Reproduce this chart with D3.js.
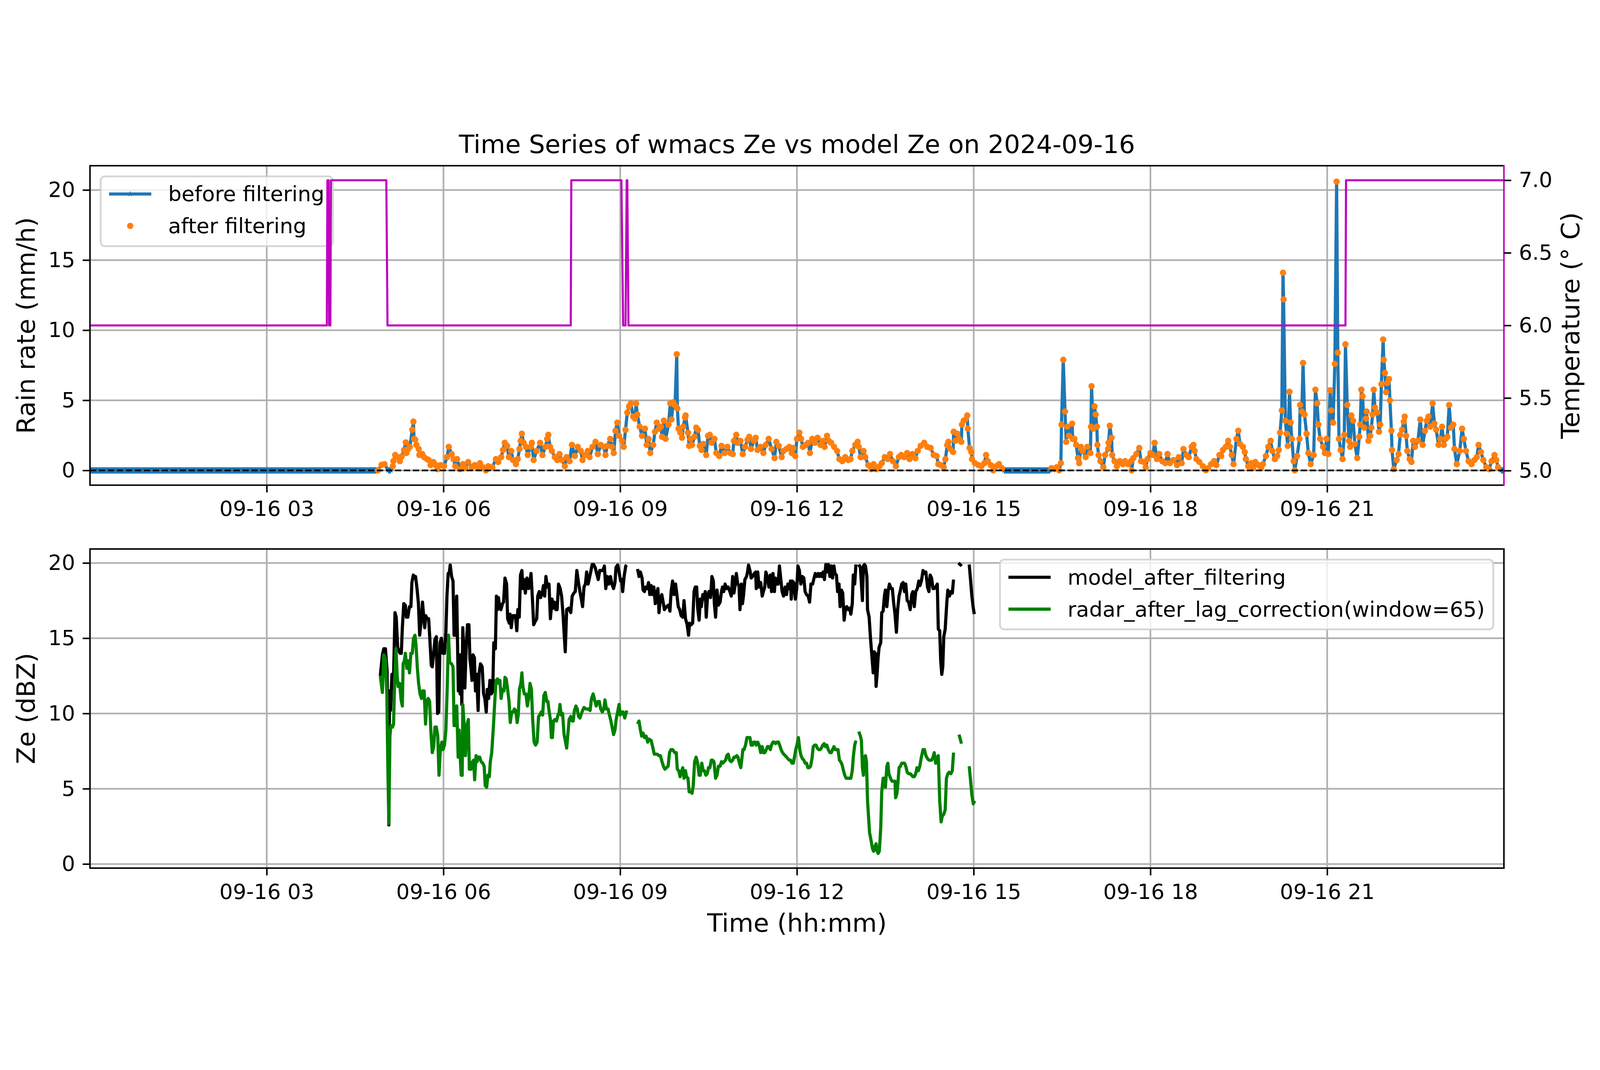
<!DOCTYPE html>
<html>
<head>
<meta charset="utf-8">
<script src="https://cdn.jsdelivr.net/npm/d3@7"></script>
<style>
  html, body { margin: 0; padding: 0; width: 100%; height: 100%; overflow: hidden; background: #fff; }
  svg { display: block; width: 100vw; height: 100vh; }
  text { font-family: "DejaVu Sans", sans-serif; }
</style>
</head>
<body>
<svg id="chart"></svg>
<script>
// ---- data (hours after 2024-09-16 00:00 UTC) ----
const DAY0 = Date.UTC(2024, 8, 16);
const hourTicks = [3, 6, 9, 12, 15, 18, 21];
const rainTicks = [0, 5, 10, 15, 20];
const tempTicks = [5.0, 5.5, 6.0, 6.5, 7.0];
const zeTicks = [0, 5, 10, 15, 20];

const chartTitle = 'Time Series of wmacs Ze vs model Ze on 2024-09-16';

// rain rate before filtering [hour, mm/h]; 0 = no rain (dropped by the filter)
const rainRate = [
  [0,0],[4.87,0],
  [4.89,0.01],[4.95,0.4],[5.00,0.45],[5.06,0],[5.11,0],[5.14,0.3],[5.15,0.66],[5.18,1.1],[5.22,0.95],[5.26,0.66],
  [5.29,1.0],[5.33,1.46],[5.36,2.0],[5.37,1.24],[5.40,1.53],[5.43,1.68],[5.47,2.9],[5.49,3.48],[5.50,2.25],[5.52,2.2],
  [5.54,1.82],[5.58,1.53],[5.59,1.1],[5.64,1.17],[5.67,0.95],[5.72,0.81],[5.75,0.74],[5.78,0.38],[5.83,0.6],[5.87,0.38],
  [5.90,0.09],[5.95,0.38],[6.01,0.3],[6.06,0.95],[6.09,1.68],[6.14,1.17],[6.17,0.81],[6.20,0.3],[6.23,0.81],[6.28,0.09],
  [6.33,0.45],[6.37,0.16],[6.42,0.6],[6.48,0.23],[6.53,0.38],[6.58,0.23],[6.62,0.52],[6.67,0.23],[6.72,0.01],[6.76,0.3],
  [6.83,0.23],[6.89,0.81],[6.93,0.6],[6.98,0.95],[7.01,1.46],[7.04,1.97],[7.08,1.75],[7.11,0.95],[7.15,1.39],[7.18,0.74],
  [7.23,0.45],[7.26,0.81],[7.29,1.53],[7.31,2.11],[7.33,2.62],[7.36,1.97],[7.40,1.68],[7.43,1.1],[7.48,1.68],[7.50,1.97],
  [7.53,0.74],[7.58,1.39],[7.64,1.97],[7.68,1.1],[7.73,1.68],[7.76,2.25],[7.78,2.54],[7.81,1.68],[7.84,1.39],[7.89,0.95],
  [7.93,0.74],[7.97,1.17],[8.01,0.74],[8.06,0.3],[8.09,0.95],[8.14,0.66],[8.18,1.82],[8.23,1.03],[8.28,1.68],[8.33,1.39],
  [8.36,0.74],[8.40,1.1],[8.45,1.39],[8.48,0.95],[8.53,1.68],[8.58,2.04],[8.62,1.17],[8.67,1.82],[8.72,1.68],[8.75,1.1],
  [8.78,1.75],[8.83,2.25],[8.86,1.68],[8.89,1.24],[8.92,2.83],[8.95,3.41],[8.98,2.47],[9.03,2.11],[9.06,1.68],[9.09,2.9],
  [9.12,4.13],[9.15,4.57],[9.18,4.78],[9.22,3.84],[9.25,3.7],[9.27,4.78],[9.29,3.99],[9.33,3.12],[9.37,2.47],[9.42,2.98],
  [9.45,1.82],[9.48,2.25],[9.51,1.24],[9.56,1.82],[9.59,2.76],[9.62,3.41],[9.66,2.98],
  [9.69,3.12],[9.71,2.4],[9.74,3.55],[9.77,2.25],[9.82,3.27],[9.85,4.78],[9.87,3.63],[9.90,4.86],[9.93,4.64],[9.96,8.29],
  [9.97,4.42],[9.99,2.98],[10.02,2.69],[10.05,2.33],[10.07,3.12],[10.10,3.77],[10.11,3.92],[10.15,2.69],[10.17,1.75],[10.19,2.25],
  [10.22,1.82],[10.26,2.4],[10.29,3.05],[10.32,2.9],[10.35,1.75],[10.38,1.46],[10.41,1.89],[10.46,1.1],[10.49,2.47],[10.52,2.54],
  [10.55,1.97],[10.60,2.25],[10.63,1.24],[10.68,1.03],[10.72,1.75],[10.77,1.24],[10.82,1.68],[10.87,1.24],[10.91,1.17],[10.93,2.11],
  [10.97,2.54],[10.99,1.97],[11.04,2.11],[11.08,1.17],[11.12,1.68],[11.16,2.18],[11.19,2.4],[11.22,1.53],[11.27,2.11],[11.30,2.33],
  [11.33,1.46],[11.38,1.68],[11.43,1.24],[11.47,1.82],[11.52,2.25],[11.57,1.53],[11.62,0.88],[11.65,2.04],[11.69,1.75],[11.74,0.95],
  [11.77,1.39],[11.82,1.53],[11.87,1.68],[11.91,1.24],[11.94,1.6],[11.97,1.03],[12.00,2.25],[12.04,2.69],[12.07,2.25],[12.10,1.68],
  [12.15,1.82],[12.19,1.97],[12.22,1.24],[12.26,2.25],[12.30,1.97],[12.35,2.33],[12.40,1.82],[12.44,2.11],[12.47,1.68],[12.51,2.47],
  [12.54,2.11],[12.58,1.97],[12.63,1.68],[12.68,1.39],[12.72,0.81],[12.77,0.66],[12.82,0.95],[12.87,0.74],[12.91,0.81],[12.94,1.39],
  [12.99,1.82],[13.03,2.04],[13.05,1.68],[13.08,0.95],[13.13,1.39],[13.16,0.95],[13.21,0.38],[13.26,0.09],[13.30,0.45],[13.35,0.09],
  [13.40,0.3],[13.44,0.52],[13.49,0.95],[13.54,0.81],[13.58,1.17],[13.63,0.66],[13.68,0.3],[13.73,0.95],[13.77,1.1],[13.82,0.95],
  [13.87,1.24],[13.91,0.81],[13.96,1.17],[14.01,0.88],[14.05,1.39],[14.10,1.75],[14.16,1.97],[14.21,1.68],[14.27,1.6],[14.32,1.1],
  [14.37,1.03],[14.40,0.45],[14.44,0.38],[14.49,0.23],[14.52,0.8],[14.55,1.8],
  [14.57,2.04],[14.60,1.53],[14.65,1.31],[14.66,2.76],[14.69,2.11],[14.72,2.62],[14.75,2.25],[14.79,2.04],[14.80,3.27],[14.83,3.55],
  [14.86,3.63],[14.89,3.92],[14.90,2.98],[14.93,1.6],[14.96,1.31],[14.97,0.81],[15.02,0.52],[15.08,0.38],[15.13,0.3],[15.18,0.52],
  [15.21,1.1],[15.24,0.66],[15.29,0.38],[15.33,0.01],[15.38,0.3],[15.43,0.45],[15.48,0.16],[15.51,0],[16.30,0],
  [16.32,0.16],[16.37,0.09],[16.41,0.23],[16.45,0.01],[16.48,0.52],[16.49,3.27],[16.52,7.89],[16.55,4.2],[16.57,2.04],[16.59,3.12],
  [16.62,2.47],[16.67,3.34],[16.68,2.25],[16.71,2.25],[16.74,1.82],[16.77,0.88],[16.79,0.52],[16.82,1.68],[16.85,1.39],[16.90,0.95],
  [16.93,1.68],[16.98,1.24],[16.99,3.12],[17.00,6.01],[17.03,2.98],[17.05,4.57],[17.07,3.99],[17.09,3.12],[17.10,1.82],[17.12,1.1],
  [17.15,0.66],[17.20,0.23],[17.23,1.1],[17.28,1.53],[17.29,1.97],[17.31,3.19],[17.34,2.33],[17.35,1.1],[17.39,0.66],[17.43,0.3],
  [17.48,0.66],[17.53,0.45],[17.57,0.66],[17.62,0.45],[17.67,0.66],[17.68,0.01],[17.71,0.88],[17.76,1.17],[17.81,1.6],[17.84,0.66],
  [17.89,0.6],[17.92,0.23],[17.95,0.81],[18.00,1.24],[18.04,1.1],[18.07,1.97],[18.11,0.81],[18.15,1.17],[18.20,0.66],[18.25,0.52],
  [18.29,1.17],[18.33,0.52],[18.39,0.74],[18.45,0.38],[18.48,0.95],[18.53,0.52],[18.56,1.53],[18.61,1.1],[18.65,0.95],[18.70,1.68],
  [18.73,1.82],[18.75,1.39],[18.78,0.81],[18.83,0.6],[18.89,0.3],[18.94,0.02],[18.98,0.16],[19.03,0.45],[19.08,0.66],[19.12,0.38],
  [19.17,1.1],[19.20,1.03],[19.23,1.46],[19.28,1.68],
  [19.32,2.11],[19.35,1.68],[19.38,1.1],[19.41,0.45],[19.46,2.25],[19.49,2.83],[19.52,1.89],[19.57,1.68],[19.60,1.31],[19.62,0.81],
  [19.66,0.3],[19.71,0.52],[19.74,0.16],[19.78,0.6],[19.83,0.38],[19.88,0.23],[19.91,0.45],[19.96,1.03],[20.00,1.68],[20.04,2.11],
  [20.07,1.39],[20.11,0.81],[20.15,1.03],[20.18,1.46],[20.20,2.69],[20.23,4.28],[20.25,14.1],[20.26,12.2],[20.29,3.55],[20.31,2.62],
  [20.33,1.75],[20.36,5.61],[20.38,3.41],[20.40,2.25],[20.43,0.66],[20.45,0.01],[20.49,1.03],[20.53,2.25],[20.54,4.67],[20.57,4.2],
  [20.59,7.67],[20.615,3.99],[20.65,2.62],[20.68,1.24],[20.72,0.45],[20.77,1.1],[20.80,5.76],[20.83,4.78],[20.85,3.27],[20.88,2.25],
  [20.93,1.68],[20.96,1.24],[20.99,2.25],[21.02,1.17],[21.05,5.72],[21.07,4.28],[21.10,3.41],[21.13,7.6],[21.16,20.6],[21.18,8.4],
  [21.20,2.25],[21.23,1.46],[21.26,0.81],[21.29,2.54],[21.31,9.0],[21.34,4.67],[21.37,2.11],[21.39,1.68],[21.41,3.92],[21.44,3.55],
  [21.47,1.89],[21.51,0.88],[21.545,2.4],[21.56,3.27],[21.58,5.76],[21.60,5.29],[21.63,3.05],[21.66,3.7],[21.67,4.2],[21.70,2.11],
  [21.73,2.47],[21.75,3.05],[21.77,3.99],[21.79,5.76],[21.81,4.49],[21.85,4.13],[21.88,2.76],[21.90,3.27],[21.92,6.16],[21.95,9.34],
  [21.96,7.89],[21.98,6.95],[22.00,5.58],[22.02,6.23],[22.05,6.52],[22.065,5.0],[22.09,2.83],[22.10,1.46],[22.13,0.09],[22.18,0.74],
  [22.21,1.17],[22.24,2.54],[22.27,2.9],[22.30,3.48],[22.315,3.84],[22.34,2.47],[22.36,1.39],[22.40,0.81],[22.43,0.6],[22.46,2.11],
  [22.49,1.68],[22.54,2.11],[22.58,3.63],[22.62,1.82],[22.66,2.83],[22.69,3.55],[22.72,3.84],[22.75,3.12],[22.79,4.78],[22.82,3.34],
  [22.85,2.9],[22.89,1.82],[22.92,2.25],[22.95,3.12],[22.98,1.82],[23.01,2.25],[23.04,2.4],[23.07,4.67],[23.10,3.05],[23.14,3.27],
  [23.16,1.53],[23.20,0.45],[23.25,1.39],[23.29,2.98],[23.32,2.25],[23.355,1.39],[23.40,0.66],[23.45,0.45],[23.50,0.74],[23.54,0.95],
  [23.57,1.82],[23.61,1.31],[23.65,0.74],[23.70,0.23],[23.75,0.09],[23.79,0.66],[23.84,1.1],[23.87,0.74],[23.90,0.23],[23.95,0],[23.99,0]
];

// temperature [hour, deg C]
const temperature = [
  [0,6],[4.02,6],[4.03,7],[4.05,7],[4.06,6],[4.08,6],[4.09,7],[5.03,7],[5.05,6],[8.16,6],[8.17,7],
  [9.02,7],[9.05,6],[9.09,6],[9.11,7],[9.12,7],[9.14,6],[21.31,6],[21.32,7],[24,7]
];

// model Ze after filtering [hour, dBZ]; null = gap
const modelZe = [
  [4.928,12.5],[4.963,13.9],[4.987,14.3],[5.015,14.3],[5.042,12.9],[5.060,8.5],[5.073,2.6],[5.084,11.5],[5.101,10.2],[5.125,12.6],
  [5.153,12.5],[5.177,16.7],[5.198,16.4],[5.222,14.4],[5.239,14.2],[5.264,14.0],[5.284,14.0],[5.302,15.7],[5.326,17.3],[5.353,17.2],
  [5.371,16.4],[5.395,16.4],[5.423,17.1],[5.447,17.1],[5.464,18.7],[5.488,19.2],[5.506,19.0],[5.526,19.1],[5.551,18.3],[5.575,17.3],
  [5.596,15.2],[5.620,16.1],[5.644,17.4],[5.665,16.4],[5.682,15.7],[5.699,16.5],[5.723,16.3],[5.748,16.3],[5.768,15.0],[5.793,13.2],
  [5.810,13.1],[5.834,14.0],[5.855,14.9],[5.879,15.1],[5.900,10.0],[5.920,10.1],[5.941,14.7],[5.965,15.0],[5.990,14.0],[6.017,14.0],
  [6.041,15.4],[6.059,17.8],[6.080,19.3],[6.097,19.3],[6.114,19.86],[6.138,19.1],[6.162,18.8],[6.180,15.2],[6.200,15.2],[6.225,17.8],
  [6.242,13.9],[6.252,11.5],[6.270,13.9],[6.283,11.3],[6.294,13.9],[6.311,10.6],[6.328,15.7],[6.346,13.9],[6.363,11.7],[6.387,14.6],
  [6.408,15.9],[6.432,15.9],[6.449,13.6],[6.467,13.0],[6.484,12.2],[6.501,13.9],[6.525,13.7],[6.543,11.5],[6.563,12.6],[6.588,10.2],
  [6.605,12.7],[6.629,13.3],[6.657,13.1],[6.681,11.3],[6.702,11.0],[6.726,10.1],[6.743,11.6],[6.767,11.0],[6.788,12.2],[6.812,11.3],
  [6.836,11.5],[6.854,14.7],[6.881,14.3],[6.899,17.8],[6.916,16.9],[6.933,17.7],[6.957,17.0],[6.975,16.9],[7.002,17.3],[7.020,17.4],
  [7.044,19.0],[7.072,18.6],[7.089,16.3],[7.117,16.0],[7.130,16.6],[7.151,15.7],[7.175,16.5],[7.220,16.5],[7.245,15.5],[7.262,16.9],
  [7.286,16.4],[7.307,19.2],[7.331,19.5],[7.348,18.3],[7.365,18.9],[7.390,18.0],[7.417,19.0],[7.445,18.3],[7.469,18.8],[7.486,19.3],
  [7.510,17.6],[7.531,15.9],[7.555,16.1],[7.583,16.3],[7.600,17.8],[7.625,18.1],[7.649,17.7],[7.676,18.0],[7.697,18.5],[7.718,17.8],
  [7.739,19.1],[7.763,18.4],[7.791,18.6],[7.815,16.3],[7.843,17.6],[7.867,17.0],[7.884,17.4],[7.908,16.9],[7.929,16.9],[7.953,18.6],
  [7.981,18.3],[8.005,17.8],[8.029,16.6],[8.050,15.2],[8.067,14.1],[8.091,16.9],[8.126,17.0],[8.161,16.7],[8.185,17.8],[8.213,18.0],
  [8.237,18.1],[8.264,19.5],[8.292,18.7],[8.316,18.1],[8.340,17.6],[8.361,17.1],[8.385,18.4],[8.409,18.6],[8.430,19.4],[8.455,18.6],
  [8.472,18.9],[8.499,19.4],[8.524,19.9],[8.548,19.9],[8.575,19.7],[8.600,19.3],[8.627,18.9],[8.652,19.5],[8.679,19.5],[8.707,19.5],
  [8.731,19.8],[8.755,18.3],[8.783,19.1],[8.807,18.6],[8.835,19.1],[8.859,18.6],[8.887,18.3],[8.911,18.7],[8.928,19.7],[8.956,19.87],
  [8.980,19.4],[9.007,18.8],[9.025,18.9],[9.042,18.1],[9.066,19.1],[9.094,19.8],[9.111,19.86],[9.2,null],
  [9.294,19.6],[9.319,19.1],[9.343,19.4],[9.371,19.0],[9.388,18.2],[9.412,18.1],[9.433,18.4],[9.457,18.3],[9.481,18.7],[9.502,17.9],
  [9.526,18.5],[9.543,17.9],[9.571,18.4],[9.595,17.3],[9.620,18.0],[9.640,18.3],[9.658,16.7],[9.682,17.6],[9.706,17.9],[9.733,17.3],
  [9.750,16.9],[9.785,17.1],[9.819,17.2],[9.844,16.8],[9.864,18.1],[9.889,18.8],[9.913,17.9],[9.940,18.6],[9.965,17.8],[9.985,17.1],
  [10.010,16.9],[10.034,16.5],[10.062,16.4],[10.083,17.5],
  [10.108,16.3],[10.136,15.9],[10.160,15.2],[10.177,16.0],[10.205,15.9],[10.229,16.0],[10.253,18.1],[10.274,18.4],[10.298,18.4],[10.315,17.0],
  [10.339,16.2],[10.360,17.6],[10.377,17.1],[10.402,17.9],[10.426,17.6],[10.443,18.1],[10.460,16.4],[10.481,17.7],[10.505,18.1],[10.533,17.7],
  [10.557,19.1],[10.581,18.8],[10.598,17.3],[10.619,16.4],[10.643,18.2],[10.667,17.2],[10.695,17.4],[10.719,18.1],[10.736,18.4],[10.757,18.1],
  [10.781,18.6],[10.805,18.3],[10.833,18.4],[10.861,18.1],[10.885,17.8],[10.909,19.1],[10.930,18.0],[10.954,18.6],[10.971,19.3],[10.995,18.6],
  [11.016,18.5],[11.033,16.9],[11.057,18.6],[11.075,17.3],[11.092,17.8],[11.116,18.9],[11.144,19.1],[11.161,19.4],[11.178,19.86],[11.202,19.5],
  [11.223,19.0],[11.247,19.1],[11.275,19.3],[11.299,19.4],[11.309,18.3],[11.334,19.4],[11.358,18.4],[11.385,18.7],[11.410,17.8],[11.430,18.1],
  [11.454,18.4],[11.472,19.4],[11.496,19.1],[11.524,18.4],[11.548,19.2],[11.568,18.1],[11.593,19.3],[11.617,18.1],[11.634,19.0],[11.655,18.6],
  [11.679,18.6],[11.703,19.8],[11.724,19.0],[11.748,18.1],[11.772,17.8],[11.800,18.4],[11.824,17.9],[11.845,18.6],[11.869,18.3],[11.889,18.8],
  [11.903,17.6],[11.920,18.8],[11.945,18.7],[11.972,17.6],[11.996,18.3],[12.017,19.8],[12.041,19.5],[12.065,18.6],[12.093,19.1],[12.117,19.0],
  [12.138,18.1],[12.162,17.9],[12.190,17.8],[12.214,17.4],[12.238,18.6],[12.266,18.6],[12.290,19.0],[12.311,19.3],[12.335,19.1],[12.359,19.3],
  [12.380,19.1],[12.404,19.3],[12.421,19.1],[12.445,19.4],[12.466,18.9],[12.490,19.9],[12.514,19.4],[12.535,19.9],[12.559,19.1],[12.583,19.8],
  [12.604,19.0],[12.628,19.8],[12.645,19.3],[12.670,19.2],[12.690,18.1],[12.714,18.6],[12.732,17.1],[12.756,18.2],[12.777,18.0],[12.801,16.2],
  [12.825,17.0],[12.846,17.1],[12.870,16.9],[12.894,17.0],[12.915,16.6],[12.939,17.3],[12.956,19.2],[12.980,18.6],[13.001,19.9],[13.02,null],
  [13.049,19.9],[13.077,19.7],[13.094,18.6],[13.111,17.5],[13.128,19.8],[13.146,19.9],[13.163,19.8],[13.187,19.1],[13.198,16.9],[13.225,16.4],
  [13.250,14.9],[13.274,13.7],[13.294,12.7],[13.312,14.1],[13.329,14.0],[13.343,11.8],[13.360,12.6],[13.377,13.7],[13.394,14.4],[13.422,14.7],
  [13.439,16.7],[13.463,16.8],[13.484,17.8],[13.501,18.2],[13.526,17.1],[13.550,18.2],[13.570,18.6],[13.595,18.3],[13.619,18.3],[13.640,17.4],
  [13.664,16.6],[13.688,15.4],[13.709,16.9],[13.733,17.8],[13.757,18.2],[13.778,18.6],[13.802,18.7],[13.826,18.1],[13.847,18.6],[13.871,17.5],
  [13.895,17.4],[13.923,16.9],[13.947,17.9],[13.968,18.1],[13.992,17.1],[14.016,18.1],[14.043,18.3],[14.068,18.8],[14.088,18.5],[14.112,18.8],
  [14.140,19.5],[14.164,19.3],[14.188,19.4],[14.216,18.4],[14.240,18.1],[14.261,19.2],[14.285,19.0],[14.309,18.3],[14.330,18.3],[14.354,18.4],
  [14.382,18.6],[14.399,15.6],[14.423,15.5],[14.440,13.5],[14.458,12.6],[14.475,13.1],[14.492,15.1],[14.516,15.6],[14.544,17.4],[14.561,18.2],
  [14.589,17.8],[14.613,18.1],[14.637,18.0],[14.658,18.9],[14.70,null],[14.741,20.0],[14.796,19.8],[14.85,null],
  [14.924,19.9],[14.948,18.8],[14.969,17.8],[14.993,17.0],[15.010,16.6]
];

// radar Ze after lag correction (window=65) [hour, dBZ]; null = gap
const radarZe = [
  [4.928,12.5],[4.963,11.4],[4.987,13.9],[5.015,13.6],[5.039,11.3],[5.056,6.4],[5.073,2.7],[5.091,8.5],[5.108,9.2],[5.136,9.1],
  [5.153,9.3],[5.170,12.0],[5.194,14.3],[5.215,12.5],[5.229,11.8],[5.257,12.0],[5.281,10.9],[5.302,10.5],[5.315,13.3],[5.336,13.5],
  [5.353,14.0],[5.378,13.0],[5.402,13.5],[5.423,12.7],[5.447,14.0],[5.471,14.0],[5.492,15.0],[5.516,15.2],[5.533,14.6],[5.557,13.0],
  [5.578,12.0],[5.602,11.3],[5.627,11.0],[5.647,11.5],[5.672,11.5],[5.696,9.3],[5.716,10.8],[5.741,11.0],[5.765,10.8],[5.786,8.8],
  [5.810,7.4],[5.834,7.8],[5.855,9.1],[5.879,9.1],[5.903,8.5],[5.924,5.9],[5.948,7.6],[5.972,8.1],[5.993,7.6],[6.017,7.9],
  [6.041,8.9],[6.062,11.5],[6.086,15.2],[6.104,13.4],[6.138,13.3],[6.162,13.1],[6.180,9.2],[6.200,9.2],[6.225,10.5],[6.249,7.1],
  [6.266,8.9],[6.283,7.2],[6.301,5.9],[6.318,5.9],[6.328,10.6],[6.353,9.1],[6.373,7.2],[6.398,9.2],[6.422,9.6],[6.439,6.3],
  [6.467,6.3],[6.491,6.8],[6.512,6.9],[6.529,5.6],[6.553,7.2],[6.570,6.8],[6.588,7.1],[6.615,7.1],[6.639,6.8],[6.667,6.7],
  [6.691,6.5],[6.709,5.2],[6.733,5.1],[6.754,5.9],[6.778,5.8],[6.795,6.8],[6.819,7.4],[6.847,9.1],[6.871,10.8],[6.892,12.2],
  [6.916,12.3],[6.937,12.0],[6.958,12.2],[6.978,11.0],[7.002,11.6],[7.027,11.5],[7.044,12.4],[7.065,12.3],[7.089,11.6],[7.113,10.8],
  [7.134,9.4],[7.158,10.1],[7.182,10.1],[7.203,10.3],[7.227,10.2],[7.251,9.4],[7.269,9.9],[7.289,11.6],[7.314,12.0],[7.331,12.7],
  [7.348,11.8],[7.372,11.3],[7.400,11.3],[7.424,10.5],[7.445,11.0],[7.469,12.0],[7.493,11.6],[7.514,9.6],[7.538,8.1],[7.563,7.9],
  [7.590,8.1],[7.614,9.8],[7.635,9.9],[7.659,10.1],[7.683,9.9],[7.704,11.2],[7.728,11.4],[7.753,10.8],[7.773,10.8],[7.791,10.2],
  [7.815,9.6],[7.832,8.4],[7.849,8.4],[7.867,9.5],[7.891,9.6],[7.919,9.5],[7.943,9.9],[7.960,10.0],[7.977,10.6],[7.998,9.9],
  [8.022,10.0],[8.047,8.6],[8.067,8.2],[8.091,7.7],[8.109,8.5],[8.133,9.6],[8.161,9.8],[8.185,9.5],[8.202,9.5],[8.223,10.2],
  [8.247,10.5],[8.271,10.3],[8.292,9.8],[8.316,9.7],[8.351,10.1],[8.385,10.4],[8.420,10.3],[8.454,10.3],[8.489,10.2],[8.513,11.0],
  [8.541,11.3],[8.565,10.9],[8.593,10.5],[8.620,10.8],[8.645,10.8],[8.669,10.3],[8.696,10.1],[8.721,10.3],[8.741,10.9],[8.766,10.3],
  [8.793,10.3],[8.817,9.9],[8.842,9.5],[8.862,9.1],[8.887,8.6],[8.911,8.9],[8.931,9.6],[8.956,10.1],[8.980,10.6],[9.001,9.9],
  [9.025,10.1],[9.049,10.1],[9.077,9.7],[9.111,10.2],[9.2,null],
  [9.294,9.3],[9.319,9.5],[9.343,8.9],[9.364,8.5],[9.388,8.7],[9.412,8.4],[9.440,8.5],[9.467,8.1],[9.491,8.3],[9.526,8.2],
  [9.550,7.8],[9.578,7.3],[9.606,7.3],[9.630,7.3],[9.654,7.2],[9.682,7.2],[9.709,6.8],[9.733,6.5],[9.758,6.3],[9.785,6.4],
  [9.813,6.5],[9.837,7.4],[9.861,7.6],[9.889,7.6],[9.924,7.4],[9.951,7.4],[9.969,6.3],[9.993,6.2],[10.017,5.8],[10.045,6.2],
  [10.062,6.4],[10.083,5.7],
  [10.108,6.2],[10.125,5.8],[10.150,5.7],[10.170,4.8],[10.194,4.8],[10.219,4.7],[10.239,5.2],[10.263,6.8],[10.288,7.1],[10.315,6.7],
  [10.339,5.9],[10.360,5.9],[10.384,6.7],[10.408,6.2],[10.429,6.2],[10.453,5.9],[10.478,6.0],[10.498,6.4],[10.522,6.4],[10.547,6.9],
  [10.567,6.9],[10.591,6.8],[10.619,5.7],[10.643,5.9],[10.667,6.5],[10.695,6.5],[10.719,6.8],[10.740,6.7],[10.764,6.8],[10.788,6.9],
  [10.809,7.2],[10.833,7.3],[10.857,6.9],[10.885,6.8],[10.909,6.9],[10.930,7.1],[10.954,7.1],[10.978,7.2],[10.999,7.1],[11.023,6.7],
  [11.047,6.4],[11.068,7.1],[11.082,7.6],[11.102,7.6],[11.127,7.9],[11.151,8.4],[11.178,8.4],[11.202,8.4],[11.223,7.9],[11.247,7.9],
  [11.265,8.1],[11.289,8.1],[11.309,7.9],[11.334,8.1],[11.358,7.9],[11.385,7.4],[11.410,7.8],[11.430,7.4],[11.454,7.4],[11.479,7.6],
  [11.499,7.8],[11.524,7.8],[11.548,7.6],[11.568,7.9],[11.593,8.1],[11.617,8.1],[11.637,8.0],[11.662,8.1],[11.686,8.1],[11.706,7.9],
  [11.731,7.6],[11.755,7.4],[11.775,7.3],[11.800,7.2],[11.824,7.1],[11.845,7.0],[11.869,6.9],[11.893,6.9],[11.914,6.7],[11.938,6.7],
  [11.962,7.2],[11.979,7.6],[12.000,7.9],[12.024,8.4],[12.048,7.6],[12.069,7.2],[12.093,7.0],[12.117,6.9],[12.138,6.7],[12.162,6.7],
  [12.186,6.4],[12.207,6.4],[12.231,6.5],[12.255,7.0],[12.276,7.8],[12.300,7.9],[12.324,7.9],[12.345,7.7],[12.369,7.6],[12.393,7.6],
  [12.414,7.7],[12.438,7.9],[12.462,8.0],[12.483,7.8],[12.507,7.9],[12.531,7.6],[12.559,7.4],[12.583,7.4],[12.604,7.6],[12.628,7.8],
  [12.652,7.6],[12.673,7.6],[12.697,7.6],[12.721,6.9],[12.742,6.8],[12.766,6.6],[12.790,6.2],[12.811,5.9],[12.835,5.7],[12.859,5.7],
  [12.887,5.7],[12.915,5.7],[12.939,6.2],[12.956,7.1],[12.980,7.9],[13.001,8.2],[13.02,null],
  [13.049,8.8],[13.077,8.5],[13.094,8.2],[13.111,6.4],[13.128,5.9],[13.146,7.1],[13.163,7.2],[13.180,6.8],[13.198,4.2],[13.232,2.1],
  [13.256,1.6],[13.284,1.0],[13.301,0.85],[13.319,1.1],[13.343,1.35],[13.360,0.85],[13.377,0.7],[13.398,0.85],[13.422,2.4],[13.439,4.8],
  [13.463,5.7],[13.484,5.7],[13.501,5.1],[13.526,6.5],[13.543,6.7],[13.560,6.0],[13.588,5.7],[13.612,5.5],[13.640,5.5],[13.664,5.5],
  [13.674,4.4],[13.698,4.7],[13.716,5.5],[13.733,6.4],[13.757,6.5],[13.778,6.7],[13.802,6.7],[13.826,6.7],[13.847,6.5],[13.871,6.1],
  [13.895,6.0],[13.923,6.0],[13.947,5.9],[13.968,5.8],[13.992,5.8],[14.016,6.0],[14.037,6.4],[14.061,6.2],[14.085,6.5],[14.112,7.1],
  [14.140,7.6],[14.164,7.6],[14.188,7.2],[14.216,7.0],[14.240,6.9],[14.261,6.9],[14.285,6.9],[14.309,7.1],[14.330,7.4],[14.354,6.7],
  [14.382,7.1],[14.399,7.2],[14.423,4.2],[14.447,2.8],[14.468,3.2],[14.492,3.3],[14.516,3.6],[14.537,5.7],[14.561,6.0],[14.585,6.1],
  [14.613,6.0],[14.637,6.2],[14.658,7.4],[14.70,null],[14.751,8.6],[14.792,8.0],[14.85,null],
  [14.924,6.5],[14.948,5.5],[14.969,4.6],[14.993,4.0],[15.017,4.2]
];

// ---- layout ----
const W = 5263, H = 2740;
const FS_TICK = 69.4, FS_LABEL = 83.3;
const LEFT = 296, RIGHT = 4947;
const TOP1 = 155, BOT1 = 1206, TOP2 = 1416, BOT2 = 2466;
const BLUE = '#1f77b4', ORANGE = '#ff7f0e', MAGENTA = '#bf00bf', GREEN = '#008000', GRID = '#b0b0b0';

const toDate = h => new Date(DAY0 + h * 3600e3);

// drawn in a fixed 5263x2740 coordinate space that scales to the window
const svg = d3.select('#chart').attr('viewBox', `0 0 ${W} ${H}`);
svg.append('rect').attr('width', W).attr('height', H).attr('fill', '#fff');

const x = d3.scaleTime().domain([toDate(0), toDate(24)]).range([LEFT, RIGHT]);
const yRain = d3.scaleLinear().domain([-1.05, 21.73]).range([BOT1, TOP1]);
const yTemp = d3.scaleLinear().domain([4.9, 7.1]).range([BOT1, TOP1]);
const yZe = d3.scaleLinear().domain([-0.27, 20.93]).range([BOT2, TOP2]);

const defs = svg.append('defs');
[['clip1', TOP1, BOT1], ['clip2', TOP2, BOT2]].forEach(([id, t, b]) => {
  defs.append('clipPath').attr('id', id)
    .append('rect').attr('x', LEFT).attr('y', t).attr('width', RIGHT - LEFT).attr('height', b - t);
});

const styleAxis = g => {
  g.attr('font-size', FS_TICK).attr('font-family', 'DejaVu Sans');
  g.select('.domain').remove();
  g.selectAll('.tick line').attr('stroke', '#000').attr('stroke-width', 5);
  g.selectAll('.tick text').attr('fill', '#000');
};

const drawGrid = (g, yScale, yTicks, t, b) => {
  g.selectAll('.vgrid').data(hourTicks).join('line')
    .attr('x1', d => x(toDate(d))).attr('x2', d => x(toDate(d)))
    .attr('y1', t).attr('y2', b)
    .attr('stroke', GRID).attr('stroke-width', 5.5);
  g.selectAll('.hgrid').data(yTicks).join('line')
    .attr('x1', LEFT).attr('x2', RIGHT)
    .attr('y1', d => yScale(d)).attr('y2', d => yScale(d))
    .attr('stroke', GRID).attr('stroke-width', 5.5);
};

const xAxis = d3.axisBottom(x)
  .tickValues(hourTicks.map(toDate))
  .tickFormat(d3.utcFormat('%m-%d %H'))
  .tickSize(24).tickPadding(28);

const legend = (g, anchorX, alignRight, top, items) => {
  const pad = 27.8, handle = 138.9, textPad = 55.5;
  const lg = g.append('g');
  const frame = lg.append('rect');
  const texts = items.map(it => lg.append('text')
    .attr('font-size', FS_TICK).attr('fill', '#000').text(it.label));
  const tw = d3.max(texts, t => t.node().getComputedTextLength());
  const width = pad + handle + textPad + tw + pad;
  const left = alignRight ? anchorX - width : anchorX;
  frame.attr('x', left).attr('y', top).attr('width', width).attr('height', 229.5)
    .attr('rx', 14).attr('fill', 'rgba(255,255,255,0.8)')
    .attr('stroke', 'rgba(204,204,204,0.8)').attr('stroke-width', 6);
  items.forEach((it, i) => {
    const cy = top + 58 + i * 105;
    it.draw(lg, left + pad, left + pad + handle, cy);
    texts[i].attr('x', left + pad + handle + textPad).attr('y', cy + 24);
  });
};

const star = d3.symbol(d3.symbolStar, 120);

// ================= top panel =================
const p1 = svg.append('g');
drawGrid(p1.append('g'), yRain, rainTicks, TOP1, BOT1);

const data1 = p1.append('g').attr('clip-path', 'url(#clip1)');

// stretches without rain: line + overlapping markers read as a thick band
const zeroRuns = d3.pairs(rainRate).filter(([a, b]) => a[1] === 0 && b[1] === 0);
data1.selectAll('.zero').data(zeroRuns).join('line')
  .attr('x1', d => x(toDate(d[0][0]))).attr('x2', d => x(toDate(d[1][0])))
  .attr('y1', d => yRain(0)).attr('y2', d => yRain(0))
  .attr('stroke', BLUE).attr('stroke-width', 21);

const rainLine = d3.line().x(d => x(toDate(d[0]))).y(d => yRain(d[1]));
data1.append('path').datum(rainRate).attr('d', rainLine)
  .attr('fill', 'none').attr('stroke', BLUE).attr('stroke-width', 10.4)
  .attr('stroke-linejoin', 'round');
data1.selectAll('.star').data(rainRate).join('path')
  .attr('d', star).attr('fill', BLUE)
  .attr('transform', d => `translate(${x(toDate(d[0]))},${yRain(d[1])})`);

const filtered = rainRate.filter(d => d[1] > 0);
data1.selectAll('.dot').data(filtered).join('circle')
  .attr('cx', d => x(toDate(d[0]))).attr('cy', d => yRain(d[1]))
  .attr('r', 10.4).attr('fill', ORANGE);

p1.append('line')
  .attr('x1', LEFT).attr('x2', RIGHT).attr('y1', yRain(0)).attr('y2', yRain(0))
  .attr('stroke', '#000').attr('stroke-width', 5.6).attr('stroke-dasharray', '20.6 8.9');

legend(p1, LEFT + 35, false, TOP1 + 35, [
  { label: 'before filtering', draw: (g, x1, x2, cy) => {
      g.append('line').attr('x1', x1).attr('x2', x2).attr('y1', cy).attr('y2', cy)
        .attr('stroke', BLUE).attr('stroke-width', 10.4);
      g.append('path').attr('d', star).attr('fill', BLUE)
        .attr('transform', `translate(${(x1 + x2) / 2},${cy})`);
  } },
  { label: 'after filtering', draw: (g, x1, x2, cy) => {
      g.append('circle').attr('cx', (x1 + x2) / 2).attr('cy', cy).attr('r', 10.4).attr('fill', ORANGE);
  } }
]);

// twin axis: temperature
const tempLine = d3.line().x(d => x(toDate(d[0]))).y(d => yTemp(d[1]));
p1.append('path').datum(temperature).attr('d', tempLine)
  .attr('clip-path', 'url(#clip1)')
  .attr('fill', 'none').attr('stroke', MAGENTA).attr('stroke-width', 6.9)
  .attr('stroke-linejoin', 'round');

p1.append('path')
  .attr('d', `M${RIGHT},${TOP1}H${LEFT}V${BOT1}H${RIGHT}`)
  .attr('fill', 'none').attr('stroke', '#000').attr('stroke-width', 5);
p1.append('line').attr('x1', RIGHT).attr('x2', RIGHT).attr('y1', TOP1 - 2.5).attr('y2', BOT1 + 2.5)
  .attr('stroke', MAGENTA).attr('stroke-width', 5);

p1.append('g').attr('transform', `translate(0,${BOT1})`).call(xAxis).call(styleAxis);
p1.append('g').attr('transform', `translate(${LEFT},0)`)
  .call(d3.axisLeft(yRain).tickValues(rainTicks).tickSize(24).tickPadding(25))
  .call(styleAxis);
p1.append('g').attr('transform', `translate(${RIGHT},0)`)
  .call(d3.axisRight(yTemp).tickValues(tempTicks).tickFormat(d3.format('.1f')).tickSize(24).tickPadding(25))
  .call(styleAxis);

// ================= bottom panel =================
const p2 = svg.append('g');
drawGrid(p2.append('g'), yZe, zeTicks, TOP2, BOT2);

const data2 = p2.append('g').attr('clip-path', 'url(#clip2)');
const zeLine = d3.line().defined(d => d[1] != null).x(d => x(toDate(d[0]))).y(d => yZe(d[1]));
data2.append('path').datum(modelZe).attr('d', zeLine)
  .attr('fill', 'none').attr('stroke', '#000').attr('stroke-width', 10.4).attr('stroke-linejoin', 'round');
data2.append('path').datum(radarZe).attr('d', zeLine)
  .attr('fill', 'none').attr('stroke', GREEN).attr('stroke-width', 10.4).attr('stroke-linejoin', 'round');

legend(p2, RIGHT - 35, true, TOP2 + 35, [
  { label: 'model_after_filtering', draw: (g, x1, x2, cy) => {
      g.append('line').attr('x1', x1).attr('x2', x2).attr('y1', cy).attr('y2', cy)
        .attr('stroke', '#000').attr('stroke-width', 10.4);
  } },
  { label: 'radar_after_lag_correction(window=65)', draw: (g, x1, x2, cy) => {
      g.append('line').attr('x1', x1).attr('x2', x2).attr('y1', cy).attr('y2', cy)
        .attr('stroke', GREEN).attr('stroke-width', 10.4);
  } }
]);

p2.append('rect').attr('x', LEFT).attr('y', TOP2).attr('width', RIGHT - LEFT).attr('height', BOT2 - TOP2)
  .attr('fill', 'none').attr('stroke', '#000').attr('stroke-width', 5);
p2.append('g').attr('transform', `translate(0,${BOT2})`).call(xAxis).call(styleAxis);
p2.append('g').attr('transform', `translate(${LEFT},0)`)
  .call(d3.axisLeft(yZe).tickValues(zeTicks).tickSize(24).tickPadding(25))
  .call(styleAxis);

// ================= labels =================
const label = (txt, tx, ty, rot) => svg.append('text')
  .attr('transform', `translate(${tx},${ty})` + (rot ? ` rotate(${rot})` : ''))
  .attr('text-anchor', 'middle').attr('font-size', FS_LABEL).attr('fill', '#000')
  .text(txt);

const midX = (LEFT + RIGHT) / 2;
label(chartTitle, midX, 113);
label('Rain rate (mm/h)', 114, (TOP1 + BOT1) / 2, -90);
label('Temperature (° C)', 5195, (TOP1 + BOT1) / 2, -90);
label('Ze (dBZ)', 114, (TOP2 + BOT2) / 2, -90);
label('Time (hh:mm)', midX, 2675);
</script>
</body>
</html>
